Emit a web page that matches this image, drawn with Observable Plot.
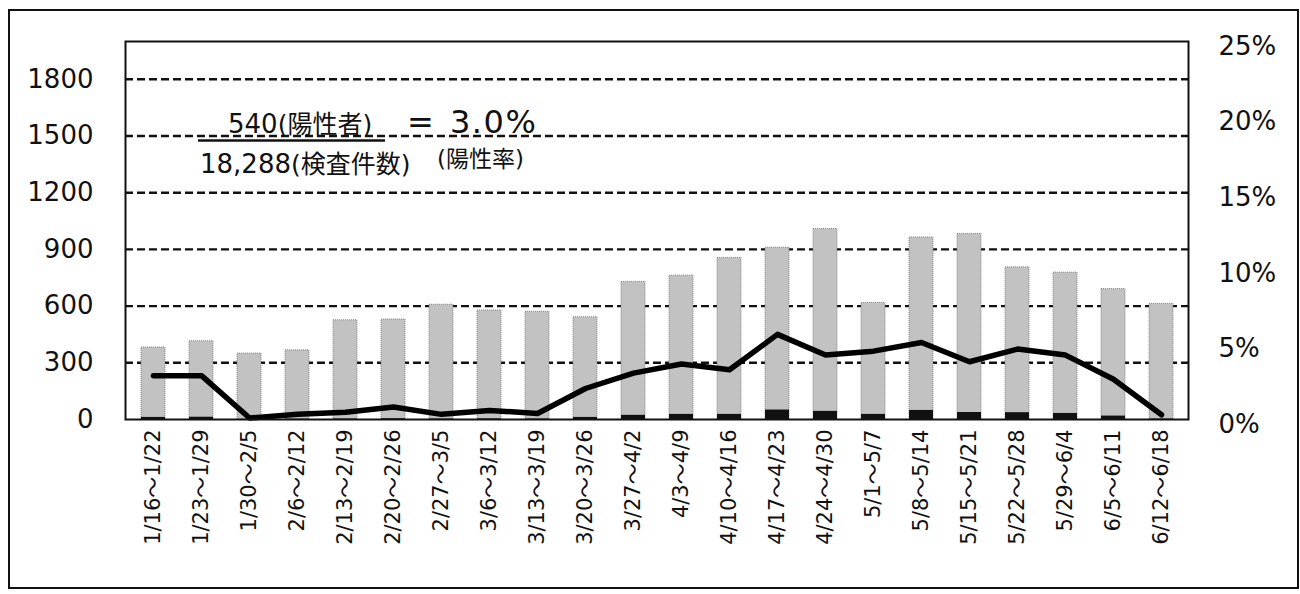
<!DOCTYPE html>
<html>
<head>
<meta charset="utf-8">
<script src="https://cdn.jsdelivr.net/npm/d3@7"></script>
<script src="https://cdn.jsdelivr.net/npm/@observablehq/plot@0.6"></script>
<style>
  html, body { margin: 0; padding: 0; background: #fff; }
  #wrap { position: relative; width: 1300px; height: 594px; overflow: hidden; }
  #outer { position: absolute; left: 8px; top: 9px; width: 1291px; height: 580px; border: 2px solid #111; box-sizing: border-box; pointer-events: none; }
  #chart { position: absolute; left: 0; top: 0; }
  #anno { position: absolute; left: 0; top: 0; }
</style>
</head>
<body>
<div id="wrap">
  <div id="chart"></div>
  <div id="outer"></div>
  <svg id="anno" width="1300" height="594"></svg>
</div>
<script>
const weeks = ["1/16～1/22","1/23～1/29","1/30～2/5","2/6～2/12","2/13～2/19","2/20～2/26","2/27～3/5","3/6～3/12","3/13～3/19","3/20～3/26","3/27～4/2","4/3～4/9","4/10～4/16","4/17～4/23","4/24～4/30","5/1～5/7","5/8～5/14","5/15～5/21","5/22～5/28","5/29～6/4","6/5～6/11","6/12～6/18"];
const tests = [381,414,349,366,525,529,607,577,570,541,728,761,855,909,1008,617,963,982,805,777,690,612];
const positives = [11,12,0,1,2,4,2,3,2,11,22,27,27,50,43,27,48,37,36,32,18,2];
const rates = [2.9,2.9,0.1,0.35,0.48,0.83,0.34,0.6,0.4,2.05,3.07,3.67,3.29,5.63,4.27,4.52,5.09,3.82,4.66,4.26,2.66,0.31];
const leftTicks = [0,300,600,900,1200,1500,1800];
const gridTicks = [300,600,900,1200,1500,1800];
const rightTicks = [0,5,10,15,20,25];
const leftMax = 2000, rightMax = 25;
const k = leftMax / rightMax;

const data = weeks.map((w, i) => ({week: w, tests: tests[i], pos: positives[i], rate: rates[i]}));
const font = '"DejaVu Sans","Noto Sans CJK JP",sans-serif';

const chart = Plot.plot({
  width: 1300, height: 594,
  marginLeft: 125, marginRight: 112, marginTop: 41, marginBottom: 175,
  style: {fontFamily: font, background: "transparent", color: "#111"},
  x: {domain: weeks, paddingInner: 0.5, paddingOuter: 0.25, label: null},
  y: {domain: [0, leftMax], label: null},
  marks: [
    Plot.ruleY(gridTicks, {stroke: "#111", strokeWidth: 2.4, strokeDasharray: "8,4"}),
    Plot.barY(data, {x: "week", y: "tests", fill: "#c2c2c2", stroke: "#707070", strokeWidth: 0.8, strokeDasharray: "1,1"}),
    Plot.barY(data, {x: "week", y: "pos", fill: "#111"}),
    Plot.line(data, {x: "week", y: d => d.rate * k, stroke: "#000", strokeWidth: 5.5, strokeLinejoin: "round", strokeLinecap: "round"}),
    Plot.axisY({anchor: "left", ticks: leftTicks, tickFormat: d => String(d), tickSize: 0, tickPadding: 32, fontSize: 26, label: null}),
    Plot.axisY({anchor: "right", ticks: rightTicks.map(t => t * k), tickFormat: d => (d / k) + "%", tickSize: 0, tickPadding: 30, fontSize: 26, dy: 5, label: null}),
    Plot.axisX({tickRotate: -90, tickSize: 0, tickPadding: 10, fontSize: 21, label: null}),
    Plot.frame({stroke: "#111", strokeWidth: 2})
  ]
});
document.getElementById("chart").appendChild(chart);

// formula annotation
const anno = d3.select("#anno").style("font-family", font).attr("fill", "#111");
const t1 = anno.append("text").attr("x", 228).attr("y", 133).attr("font-size", 26);
t1.append("tspan").text("540");
t1.append("tspan").attr("font-size", 25).text("(陽性者)");
anno.append("line").attr("x1", 198).attr("x2", 385).attr("y1", 140.5).attr("y2", 140.5).attr("stroke", "#111").attr("stroke-width", 2.4);
const t2 = anno.append("text").attr("x", 200).attr("y", 173).attr("font-size", 26);
t2.append("tspan").text("18,288");
t2.append("tspan").attr("font-size", 25).text("(検査件数)");
anno.append("text").attr("x", 407).attr("y", 133).attr("font-size", 32).text("=");
anno.append("text").attr("x", 450).attr("y", 133).attr("font-size", 32).attr("letter-spacing", 1.5).text("3.0%");
anno.append("text").attr("x", 437).attr("y", 167).attr("font-size", 23).text("(陽性率)");
</script>
</body>
</html>
